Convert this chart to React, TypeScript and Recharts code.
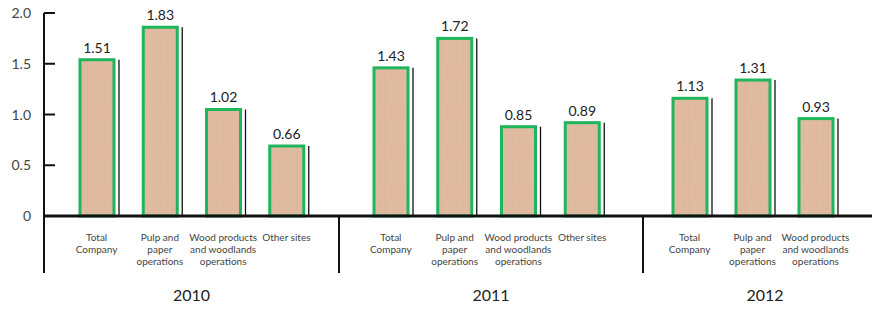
import React from 'react';
import { BarChart, Bar, XAxis, YAxis, LabelList } from 'recharts';

const categories2010 = ['Total\nCompany', 'Pulp and\npaper\noperations', 'Wood products\nand woodlands\noperations', 'Other sites'];
const categories2011 = ['Total\nCompany', 'Pulp and\npaper\noperations', 'Wood products\nand woodlands\noperations', 'Other sites'];
const categories2012 = ['Total\nCompany', 'Pulp and\npaper\noperations', 'Wood products\nand woodlands\noperations'];

const values2010 = [1.51, 1.83, 1.02, 0.66];
const values2011 = [1.43, 1.72, 0.85, 0.89];
const values2012 = [1.13, 1.31, 0.93];

const years = ['2010', '2011', '2012'];
const yTicks = [0, 0.5, 1, 1.5, 2];
const yTickLabels = ['0', '0.5', '1.0', '1.5', '2.0'];

const FONT = 'Lato, "Open Sans", sans-serif';
const WOOD = '#dfbaa1';
const GREEN = '#1fb55a';

const toRows = (cats: string[], vals: number[]) => cats.map((c, i) => ({ name: c, value: vals[i] }));

const WoodBar = (props: any) => {
  const { x, y, width, height } = props;
  if (height == null || height <= 0) return null;
  const top = y - 3;
  const h = height + 3;
  return (
    <g>
      <rect x={x} y={top} width={width} height={h} fill="url(#woodGrain)" stroke={GREEN} strokeWidth={3} />
      <line x1={x + width + 5} y1={top} x2={x + width + 5} y2={y + height} stroke="#111" strokeWidth={1.3} />
    </g>
  );
};

const CategoryTick = (props: any) => {
  const { x, y, payload } = props;
  const lines = String(payload.value).split('\n');
  return (
    <text x={x} y={y} textAnchor="middle" fontFamily={FONT} fontSize={10} fill="#444">
      {lines.map((l, i) => (
        <tspan key={i} x={x} dy={i === 0 ? 17 : 12}>{l}</tspan>
      ))}
    </text>
  );
};

const ValueTick = (props: any) => {
  const { x, y, index } = props;
  return (
    <g>
      <line x1={x} y1={y} x2={x + 11} y2={y} stroke="#111" strokeWidth={2} />
      <text x={x - 13} y={y} dy={5} textAnchor="end" fontFamily={FONT} fontSize={14} fill="#444">
        {yTickLabels[index]}
      </text>
    </g>
  );
};

const Defs = () => (
  <defs>
    <pattern id="woodGrain" patternUnits="userSpaceOnUse" width="14" height="40">
      <rect width="14" height="40" fill={WOOD} />
      <rect x="3" width="1" height="40" fill="#dab39a" opacity="0.5" />
      <rect x="9" width="1" height="24" fill="#e4c2ab" opacity="0.5" />
    </pattern>
  </defs>
);

interface GroupProps {
  rows: { name: string; value: number }[];
  width: number;
  padLeft: number;
  padRight: number;
  withYAxis?: boolean;
  year: string;
}

function YearGroup({ rows, width, padLeft, padRight, withYAxis, year }: GroupProps) {
  const axisW = withYAxis ? 44 : 0;
  return (
    <div style={{ position: 'relative', width, flex: 'none' }}>
      <BarChart width={width} height={280} data={rows} margin={{ top: 13, right: 0, bottom: 0, left: 0 }} barSize={34}>
        <Defs />
        <YAxis
          domain={[0, 2]}
          ticks={yTicks}
          width={axisW}
          hide={!withYAxis}
          axisLine={{ stroke: '#111', strokeWidth: 2 }}
          tickLine={false}
          tickSize={0}
          tickMargin={0}
          tick={<ValueTick />}
        />
        <XAxis
          dataKey="name"
          height={64}
          padding={{ left: padLeft, right: padRight }}
          axisLine={{ stroke: '#111', strokeWidth: 3 }}
          tickLine={false}
          interval={0}
          tick={<CategoryTick />}
        />
        <Bar dataKey="value" shape={<WoodBar />} isAnimationActive={false}>
          <LabelList
            dataKey="value"
            position="top"
            offset={10}
            formatter={(v: any) => Number(v).toFixed(2)}
            style={{ fontFamily: FONT, fontSize: 14, fill: '#222' }}
          />
        </Bar>
      </BarChart>
      <div style={{ position: 'absolute', left: axisW - 1, top: 215, width: 2, height: 58, background: '#111' }} />
      <div
        style={{
          position: 'absolute',
          left: axisW,
          right: 0,
          top: 285,
          textAlign: 'center',
          fontFamily: FONT,
          fontSize: 16,
          fontWeight: 400,
          color: '#222',
        }}
      >
        {year}
      </div>
    </div>
  );
}

export default function App() {
  return (
    <div
      style={{
        position: 'absolute',
        left: 0,
        top: 0,
        width: 872,
        height: 331,
        overflow: 'hidden',
        background: '#fff',
        display: 'flex',
      }}
    >
      <YearGroup rows={toRows(categories2010, values2010)} width={339} padLeft={21} padRight={21} withYAxis year={years[0]} />
      <YearGroup rows={toRows(categories2011, values2011)} width={304} padLeft={20} padRight={29} year={years[1]} />
      <YearGroup rows={toRows(categories2012, values2012)} width={244} padLeft={15} padRight={40} year={years[2]} />
    </div>
  );
}
